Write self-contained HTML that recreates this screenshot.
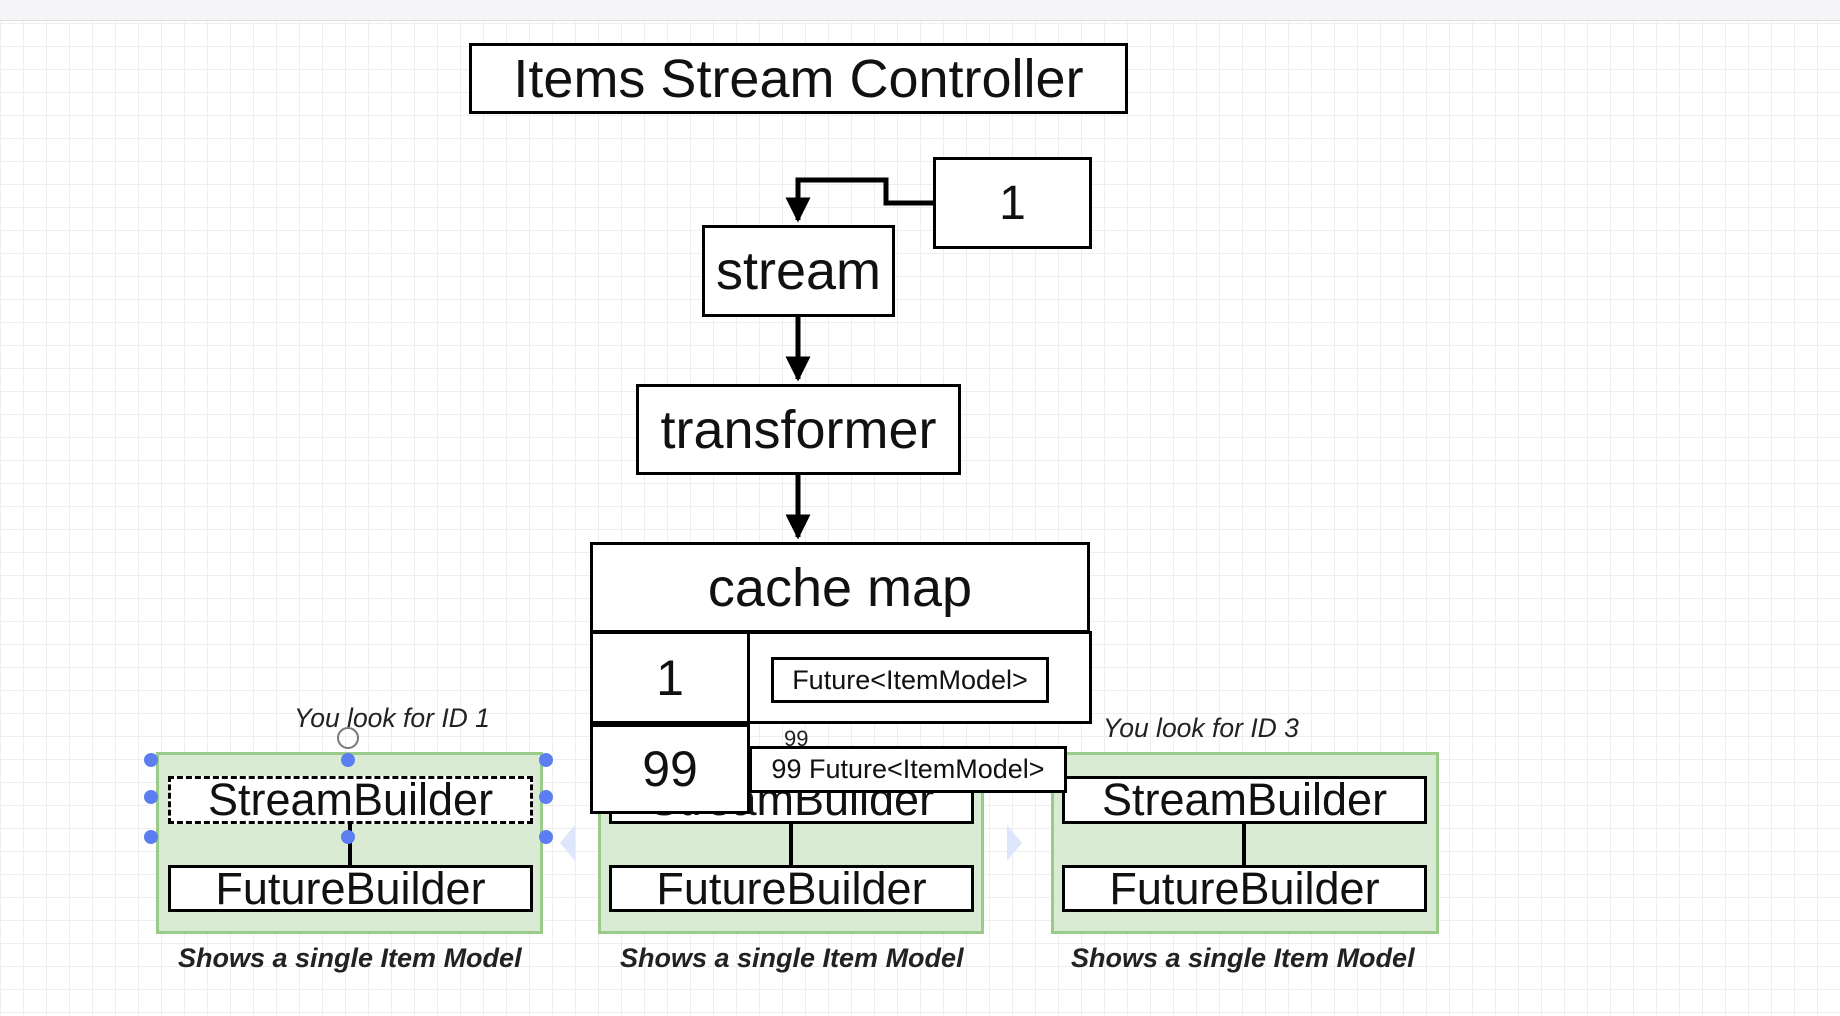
<!DOCTYPE html><html><head><style>
body{margin:0;width:1840px;height:1016px;overflow:hidden;background:#fff;font-family:"Liberation Sans",sans-serif;position:relative;
background-image:linear-gradient(#eee 1px,transparent 1px),linear-gradient(90deg,#eee 1px,transparent 1px);background-size:23px 23px}
.b{position:absolute;box-sizing:border-box;border:3px solid #000;background:#fff;display:flex;align-items:center;justify-content:center;color:#111;white-space:nowrap}
.g{position:absolute;box-sizing:border-box;border:3px solid #9bcb8a;background:#d9ecd3}
.t{position:absolute;font-style:italic;color:#222;white-space:nowrap}
</style></head><body>
<div style="position:absolute;left:0;top:0;width:1840px;height:20px;background:#f5f4f7;border-bottom:1px solid #ddd"></div>
<div class="b" style="left:469px;top:43px;width:659px;height:71px;font-size:54px">Items Stream Controller</div>
<div class="b" style="left:933px;top:157px;width:159px;height:92px;font-size:48px">1</div>
<div class="b" style="left:702px;top:225px;width:193px;height:92px;font-size:54px">stream</div>
<div class="b" style="left:636px;top:384px;width:325px;height:91px;font-size:54px">transformer</div>
<div class="b" style="left:590px;top:542px;width:500px;height:91px;font-size:54px">cache map</div>
<div class="b" style="left:590px;top:631px;width:502px;height:93px"></div>
<div class="b" style="left:590px;top:631px;width:160px;height:93px;font-size:50px">1</div>
<div class="b" style="left:771px;top:657px;width:278px;height:46px;font-size:27px">Future&lt;ItemModel&gt;</div>
<svg style="position:absolute;left:0;top:0" width="1840" height="1016">
<defs><marker id="a" viewBox="0 0 10 10" refX="9" refY="5" markerWidth="5" markerHeight="5" orient="auto"><path d="M0,0L10,5L0,10z"/></marker></defs>
<g stroke="#000" stroke-width="5" fill="none">
<polyline points="933,203 886,203 886,180 798,180 798,220" marker-end="url(#a)"/>
<line x1="798" y1="317" x2="798" y2="379" marker-end="url(#a)"/>
<line x1="798" y1="475" x2="798" y2="537" marker-end="url(#a)"/>
</g></svg>
<div class="g" style="left:156px;top:752px;width:387px;height:182px"></div>
<div class="g" style="left:598px;top:752px;width:386px;height:182px"></div>
<div class="g" style="left:1051px;top:752px;width:388px;height:182px"></div>
<svg style="position:absolute;left:0;top:0" width="1840" height="1016"><g stroke="#000" stroke-width="4">
<line x1="350" y1="822" x2="350" y2="866"/><line x1="791" y1="822" x2="791" y2="866"/><line x1="1244" y1="822" x2="1244" y2="866"/></g>
<path d="M575,825 L560,843 L575,861z" fill="#dde6fb"/><path d="M1007,825 L1022,843 L1007,861z" fill="#dde6fb"/></svg>
<div class="b" style="left:168px;top:776px;width:365px;height:48px;font-size:45px;border-style:dashed">StreamBuilder</div>
<div class="b" style="left:168px;top:865px;width:365px;height:47px;font-size:45px">FutureBuilder</div>
<div class="b" style="left:609px;top:776px;width:365px;height:48px;font-size:45px">StreamBuilder</div>
<div class="b" style="left:609px;top:865px;width:365px;height:47px;font-size:45px">FutureBuilder</div>
<div class="b" style="left:1062px;top:776px;width:365px;height:48px;font-size:45px">StreamBuilder</div>
<div class="b" style="left:1062px;top:865px;width:365px;height:47px;font-size:45px">FutureBuilder</div>
<div class="b" style="left:590px;top:724px;width:160px;height:90px;font-size:50px">99</div>
<div class="b" style="left:749px;top:746px;width:318px;height:47px;font-size:27px">99 Future&lt;ItemModel&gt;</div>
<div class="t" style="left:784px;top:726px;font-size:22px;font-style:normal">99</div>
<div class="t" style="left:294px;top:703px;font-size:26.5px">You look for ID 1</div>
<div class="t" style="left:1103px;top:713px;font-size:26.5px">You look for ID 3</div>
<div class="t" style="left:178px;top:943px;font-size:27px;font-weight:bold">Shows a single Item Model</div>
<div class="t" style="left:620px;top:943px;font-size:27px;font-weight:bold">Shows a single Item Model</div>
<div class="t" style="left:1071px;top:943px;font-size:27px;font-weight:bold">Shows a single Item Model</div>
<svg style="position:absolute;left:0;top:0" width="1840" height="1016" fill="#5b7ff0">
<circle cx="151" cy="760" r="7"/><circle cx="348" cy="760" r="7"/><circle cx="546" cy="760" r="7"/>
<circle cx="151" cy="797" r="7"/><circle cx="546" cy="797" r="7"/>
<circle cx="151" cy="837" r="7"/><circle cx="348" cy="837" r="7"/><circle cx="546" cy="837" r="7"/>
<circle cx="348" cy="738" r="10" fill="none" stroke="#777" stroke-width="2"/></svg>
</body></html>
